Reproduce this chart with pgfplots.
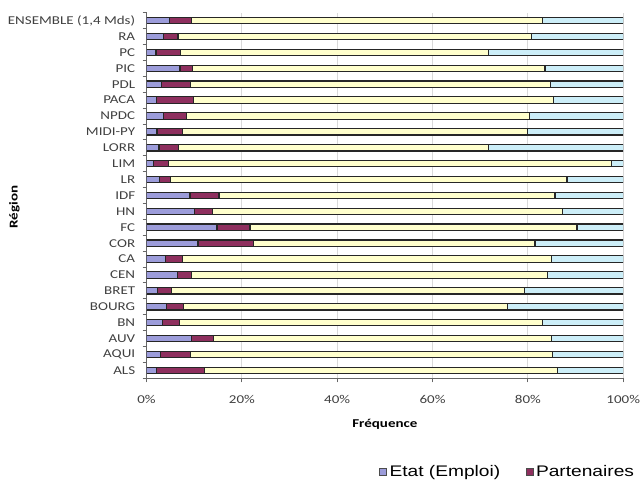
\documentclass[border=0pt]{standalone}
\usepackage{pgfplots}
\pgfplotsset{compat=1.18}
\usepackage{pgfplotstable}
\usepackage{fontspec}
\setmainfont{Carlito}[FakeStretch=1.25]
\newfontfamily\legfont{Liberation Sans}[FakeStretch=1.25]
\definecolor{cEtat}{HTML}{9C9CDA}
\definecolor{cPart}{HTML}{8E2F5E}
\definecolor{cPub}{HTML}{FFFFCC}
\definecolor{cAut}{HTML}{CCEEF8}
\pgfplotstableread{
y etat part pub aut
0  2.1 10.1 74.0 13.8
1  2.9  6.3 76.0 14.8
2  9.5  4.6 70.8 15.1
3  3.3  3.6 76.1 17.0
4  4.2  3.6 67.9 24.3
5  2.3  2.9 74.1 20.7
6  6.5  2.9 74.7 15.9
7  4.0  3.5 77.4 15.1
8 10.8 11.7 59.0 18.5
9 14.8  6.9 68.6  9.7
10 10.0 3.9 73.4 12.7
11  9.1 6.1 70.5 14.3
12  2.8 2.3 83.1 11.8
13  1.4 3.2 93.0  2.4
14  2.6 4.1 65.1 28.2
15  2.2 5.3 72.5 20.0
16  3.6 4.8 72.0 19.6
17  2.1 7.8 75.4 14.7
18  3.2 6.0 75.6 15.2
19  7.0 2.6 74.0 16.4
20  2.0 5.2 64.5 28.3
21  3.5 3.1 74.1 19.3
22  4.9 4.6 73.5 17.0
}\data
\begin{document}
\begin{tikzpicture}
\begin{axis}[
  at={(109.9pt,76.3pt)}, anchor=south west,
  scale only axis, width=357.5pt, height=274.2pt,
  xbar stacked, bar width=4.8pt,
  xmin=0, xmax=100, ymin=-0.5, ymax=22.5,
  axis x line*=bottom, axis y line*=left,
  axis line style={draw=black!60, line width=0.6pt},
  tick align=outside,
  xtick={0,20,...,100},
  xticklabel={\pgfmathprintnumber{\tick}\%},
  /pgf/number format/assume math mode=true,
  xmajorgrids, major grid style={draw=black!15, line width=0.8pt},
  major tick length=3pt,
  ytick={0,...,22},
  yticklabels={ALS,AQUI,AUV,BN,BOURG,BRET,CEN,CA,COR,FC,HN,IDF,LR,LIM,LORR,MIDI-PY,NPDC,PACA,PDL,PIC,PC,RA,{ENSEMBLE (1,4 Mds)}},
  every major y tick/.style={draw=none},
  minor ytick={-0.5,0.5,...,22.5},
  minor tick length=3pt,
  every minor y tick/.style={draw=black!60, line width=0.6pt},
  every major x tick/.style={draw=black!60, line width=0.6pt},
  ticklabel style={font=\fontsize{9}{11}\selectfont, text=black!75},
  yticklabel style={xshift=-2pt},
  xticklabel style={yshift=-6pt},
  xlabel={Fréquence}, ylabel={Région},
  label style={font=\bfseries\fontsize{9}{11}\selectfont},
  xlabel style={at={(axis description cs:0.5,-0.126)}, anchor=center},
  ylabel style={at={(axis description cs:-0.277,0.468)}, anchor=center},
  legend columns=2,
  legend style={at={(0.479,-0.255)}, anchor=west, draw=none, fill=none,
    font=\legfont\fontsize{11.5}{13}\selectfont,
    /tikz/every even column/.append style={column sep=17pt}},
  legend image code/.code={\draw[#1, draw=black!70, line width=0.4pt] (0pt,-2.7pt) rectangle (5.4pt,2.7pt);},
]
\addplot[fill=cEtat, draw=black!85, line width=0.9pt] table[x=etat, y=y] {\data};
\addlegendentry{Etat (Emploi)}
\addplot[fill=cPart, draw=black!85, line width=0.9pt] table[x=part, y=y] {\data};
\addlegendentry{Partenaires}
\addplot[fill=cPub, draw=black!85, line width=0.9pt, forget plot] table[x=pub, y=y] {\data};
\addplot[fill=cAut, draw=black!85, line width=0.9pt, forget plot] table[x=aut, y=y] {\data};
\end{axis}
\pgfresetboundingbox
\path[use as bounding box] (0,0) rectangle (482.25pt,360pt);
\end{tikzpicture}
\end{document}
